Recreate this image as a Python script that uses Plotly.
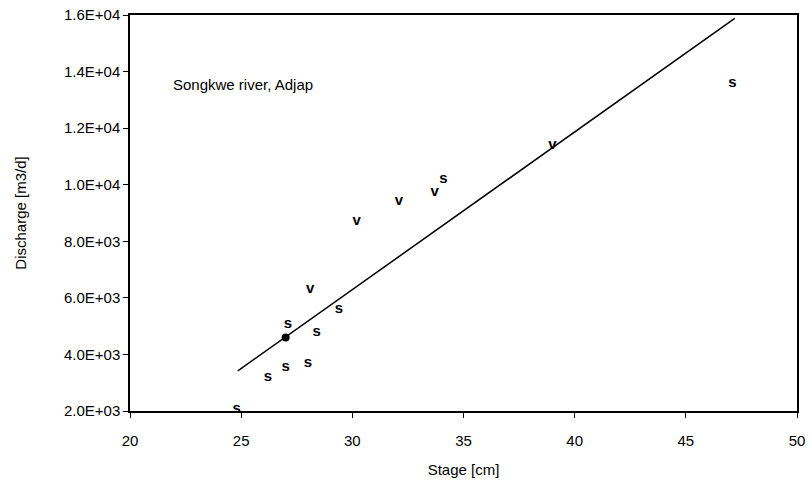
import plotly.graph_objects as go

# Data (Stage [cm], Discharge [m3/d])
s_stage = [24.8, 26.2, 27.0, 27.1, 28.0, 28.4, 29.4, 34.1, 47.1]
s_discharge = [2050, 3200, 3550, 5050, 3700, 4800, 5600, 10200, 13600]

v_stage = [28.1, 30.2, 32.1, 33.7, 39.0]
v_discharge = [6300, 8700, 9400, 9750, 11400]

# overlapping observations that print as a dark blob in the original
blob_stage = [27.0]
blob_discharge = [4600]

fit_stage = [24.85, 47.2]
fit_discharge = [3420, 15880]

ytick_vals = [2000, 4000, 6000, 8000, 10000, 12000, 14000, 16000]
ytick_text = ["2.0E+03", "4.0E+03", "6.0E+03", "8.0E+03", "1.0E+04", "1.2E+04", "1.4E+04", "1.6E+04"]
xtick_vals = [20, 25, 30, 35, 40, 45, 50]

FONT = "Liberation Sans, Arial, sans-serif"

fig = go.Figure()
fig.add_trace(go.Scatter(x=fit_stage, y=fit_discharge, mode="lines",
                         line=dict(color="black", width=1.5), showlegend=False,
                         hoverinfo="skip"))
fig.add_trace(go.Scatter(x=s_stage, y=s_discharge, mode="text", text=["s"] * len(s_stage),
                         textposition="middle center",
                         textfont=dict(family=FONT, size=15, color="black", weight="bold"),
                         showlegend=False))
fig.add_trace(go.Scatter(x=v_stage, y=v_discharge, mode="text", text=["v"] * len(v_stage),
                         textposition="middle center",
                         textfont=dict(family=FONT, size=15, color="black", weight="bold"),
                         showlegend=False))
fig.add_trace(go.Scatter(x=blob_stage, y=blob_discharge, mode="markers",
                         marker=dict(color="black", size=8, symbol="circle"),
                         showlegend=False))

fig.add_annotation(x=0.062, y=0.824, xref="paper", yref="paper", xanchor="left", yanchor="middle",
                   text="Songkwe river, Adjap", showarrow=False,
                   font=dict(family=FONT, size=15, color="black"))

fig.update_layout(
    width=810, height=481,
    margin=dict(l=130, r=13, t=15, b=70, autoexpand=False),
    paper_bgcolor="white", plot_bgcolor="white",
    font=dict(family=FONT, size=14, color="black"),
)
fig.update_xaxes(range=[20, 50], tickvals=xtick_vals, ticks="outside", ticklen=5, tickwidth=1,
                 tickcolor="black", showline=True, linecolor="black", linewidth=1.5, mirror=True,
                 showgrid=False, zeroline=False, ticklabelstandoff=10, automargin=False,
                 title=dict(text="Stage [cm]", font=dict(size=15), standoff=17),
                 tickfont=dict(size=15))
fig.update_yaxes(range=[2000, 16000], tickvals=ytick_vals, ticktext=ytick_text, ticks="outside",
                 ticklen=5, tickwidth=1, tickcolor="black", showline=True, linecolor="black",
                 linewidth=1.5, mirror=True, showgrid=False, zeroline=False, automargin=False,
                 title=dict(text="Discharge [m3/d]", font=dict(size=15), standoff=34),
                 tickfont=dict(size=15))

fig.write_html("out.html")
